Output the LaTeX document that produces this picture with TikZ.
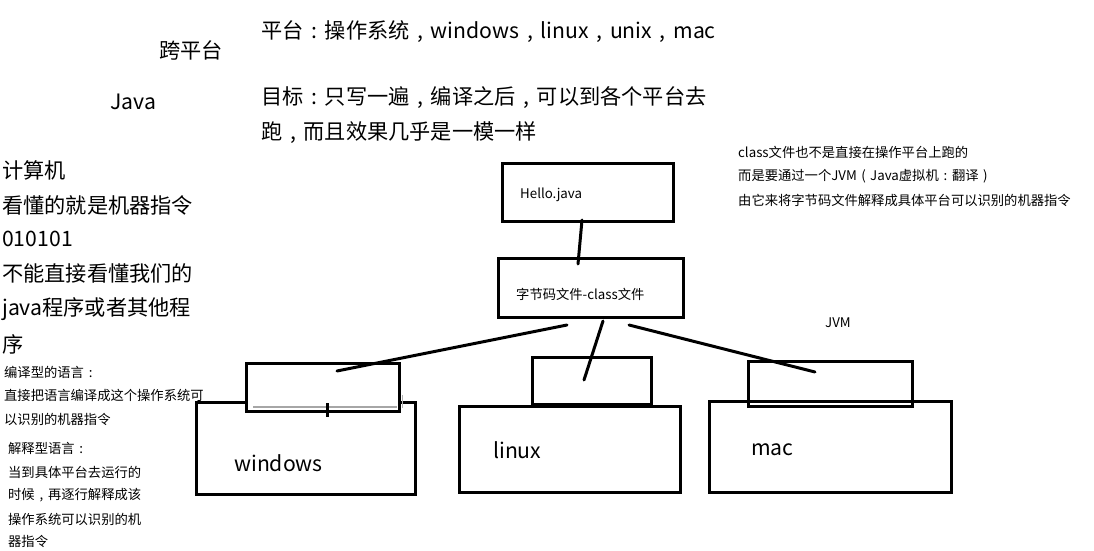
\documentclass[tikz,border=0pt]{standalone}
\usepackage{fontspec}
\setmainfont{Noto Sans CJK SC}
\newcommand\fw[1]{\makebox[1em][c]{#1}}
\begin{document}
\begin{tikzpicture}[x=1pt,y=-1pt,
  big/.style={font=\fontsize{21.2}{21.2}\selectfont, anchor=west, inner sep=0pt},
  small/.style={font=\fontsize{13.3}{13.3}\selectfont, anchor=west, inner sep=0pt},
  boxs/.style={draw=black, line width=3pt, inner sep=0pt},
  conn/.style={line width=3pt, line cap=round}]
\useasboundingbox (0,0) rectangle (1094,551);
\fill[white] (0,0) rectangle (1094,551);

% top texts
\node[big] (kua) at (159,50) {跨平台};
\node[big] (java) at (110,102) {Java};
\node[big] (pt) at (261,32) {平台\fw{:}操作系统\fw{,}windows\fw{,}linux\fw{,}unix\fw{,}mac};
\node[big] (mb1) at (261,98) {目标\fw{:}只写一遍\fw{,}编译之后\fw{,}可以到各个平台去};
\node[big] (mb2) at (261,133) {跑\fw{,}而且效果几乎是一模一样};

% left column
\node[big] (l1) at (2,170) {计算机};
\node[big] (l2) at (2,205) {看懂的就是机器指令};
\node[big] (l3) at (2,239) {010101};
\node[big] (l4) at (2,273) {不能直接看懂我们的};
\node[big] (l5) at (2,309) {java程序或者其他程};
\node[big] (l6) at (2,344) {序};

\node[small] (c1) at (4,372) {编译型的语言\fw{:}};
\node[small] (c2) at (4,395) {直接把语言编译成这个操作系统可};
\node[small] (c3) at (4,419) {以识别的机器指令};
\node[small] (i1) at (8,448) {解释型语言\fw{:}};
\node[small] (i2) at (8,472) {当到具体平台去运行的};
\node[small] (i3) at (8,495) {时候\fw{,}再逐行解释成该};
\node[small] (i4) at (8,519) {操作系统可以识别的机};
\node[small] (i5) at (8,541) {器指令};

% right texts
\node[small] (r1) at (738,152) {class文件也不是直接在操作平台上跑的};
\node[small] (r2) at (738,176) {而是要通过一个JVM\fw{(}Java虚拟机\fw{:}翻译\fw{)}};
\node[small] (r3) at (738,200) {由它来将字节码文件解释成具体平台可以识别的机器指令};
\node[small, anchor=center] (jvm) at (838,323) {JVM};

% boxes
\node[boxs, minimum width=171pt, minimum height=58pt] (hello) at (587.5,192) {};
\node[small] (hellot) at (520,195) {Hello.java};
\node[boxs, minimum width=185pt, minimum height=59pt] (bc) at (590.5,287.5) {};
\node[small] (bct) at (516,294) {字节码文件-class文件};

% windows
\node[boxs, minimum width=219pt, minimum height=92pt] (win) at (305.5,448) {};
\node[boxs, fill=white, minimum width=153pt, minimum height=48pt] (winjvm) at (322.5,387) {};
\node[big] (wint) at (234,463) {windows};

% linux
\node[boxs, minimum width=119pt, minimum height=47pt] (linjvm) at (591.5,380.5) {};
\node[boxs, minimum width=221pt, minimum height=86pt] (lin) at (569.5,449) {};
\node[big] (lint) at (493,450) {linux};

% mac
\node[boxs, minimum width=164pt, minimum height=45pt] (macjvm) at (830,383.5) {};
\node[boxs, minimum width=242pt, minimum height=91pt] (mac) at (830,446.5) {};
\node[big] (mact) at (751,450) {mac};

% connector endpoints
\coordinate (h1) at (582,220);
\coordinate (h2) at (578,264);
\coordinate (a1) at (567,325);
\coordinate (a2) at (337,371);
\coordinate (b1) at (603,321);
\coordinate (b2) at (584,380);
\coordinate (m1) at (629,325);
\coordinate (m2) at (815,372);
\coordinate (t1) at (327,403);
\coordinate (t2) at (327,417);
\coordinate (g1) at (253,407);
\coordinate (g2) at (397,407);
\coordinate (g3) at (402,395);
\coordinate (g4) at (402,408);

\draw[gray!70, line width=1.2pt] (g1) -- (g2);
\draw[gray!60, line width=1pt] (g3) -- (g4);

\draw[conn] (h1) -- (h2);
\draw[conn] (a1) -- (a2);
\draw[conn] (b1) -- (b2);
\draw[conn] (m1) -- (m2);
\draw[line width=3pt] (t1) -- (t2);
\end{tikzpicture}
\end{document}
